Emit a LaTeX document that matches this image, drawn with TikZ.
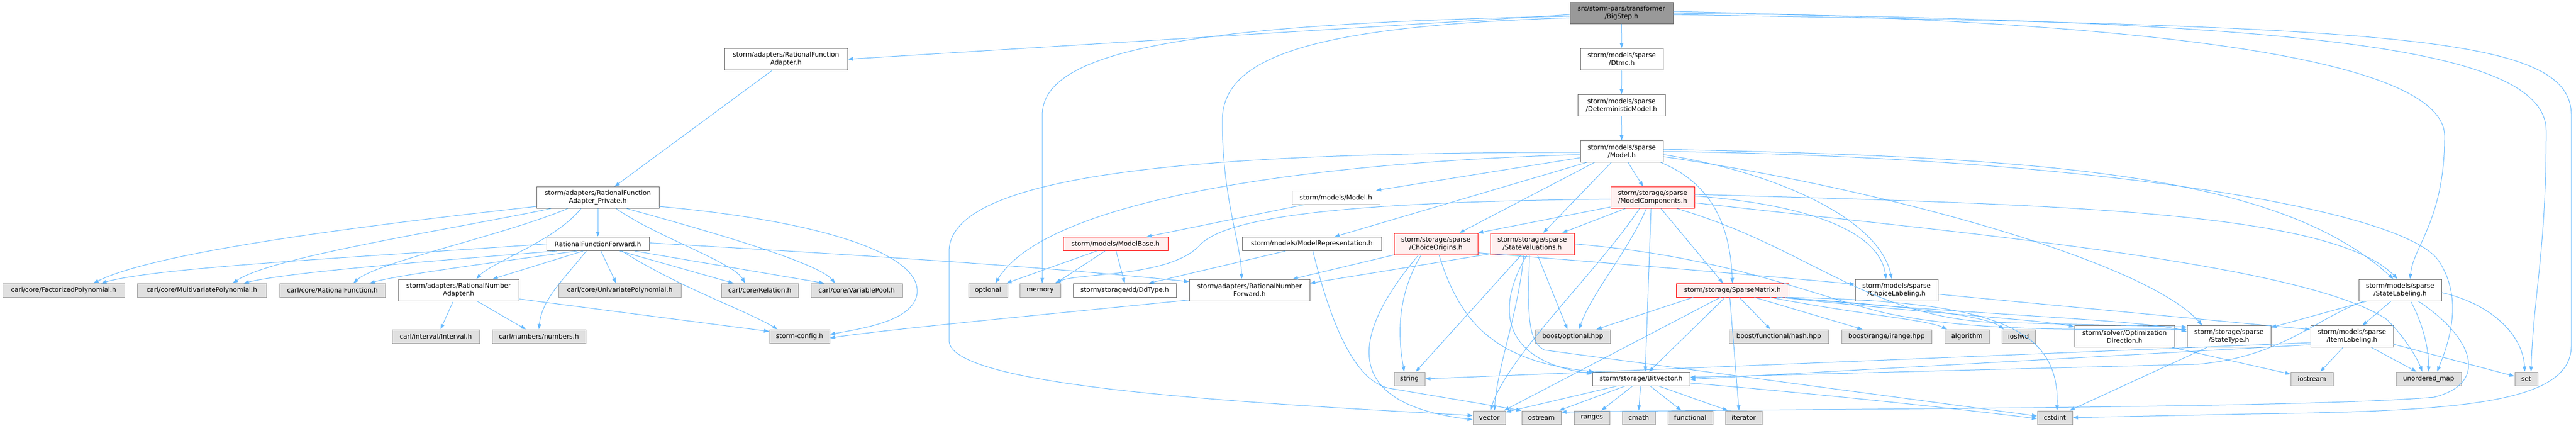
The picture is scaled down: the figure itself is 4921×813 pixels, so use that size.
\documentclass[tikz,border=0pt]{standalone}
\usepackage{fontspec}
\setmainfont{DejaVu Sans}
\usetikzlibrary{arrows.meta}
\definecolor{edgeblue}{HTML}{63B8FF}
\definecolor{boxline}{HTML}{666666}
\definecolor{sysline}{HTML}{999999}
\definecolor{sysfill}{HTML}{E0E0E0}
\definecolor{redfill}{HTML}{FFF0F0}
\definecolor{rootfill}{HTML}{999999}
\tikzset{
  hdr/.style={draw=boxline, fill=white, line width=1pt, align=center, inner sep=0pt,
    minimum height=26pt, font=\fontsize{12.4}{15}\selectfont},
  two/.style={minimum height=41pt},
  syshdr/.style={hdr, draw=sysline, fill=sysfill},
  redhdr/.style={hdr, draw=red, fill=redfill},
  roothdr/.style={hdr, fill=rootfill},
  incl/.style={draw=edgeblue, line width=1pt, -{Triangle[length=10pt,width=7pt]}},
}
\begin{document}
\begin{tikzpicture}[x=1pt,y=-1pt]
    \useasboundingbox (0,0) rectangle (4921,813);

    \node[roothdr, two, minimum width=197pt] (bigstep) at (3097.5,25) {src/storm-pars/transformer\\/BigStep.h};
    \node[hdr, two, minimum width=235pt] (rfadapter) at (1501.5,113) {storm/adapters/RationalFunction\\Adapter.h};
    \node[hdr, two, minimum width=158pt] (dtmc) at (3098,113) {storm/models/sparse\\/Dtmc.h};
    \node[hdr, two, minimum width=167pt] (detmodel) at (3097.5,201) {storm/models/sparse\\/DeterministicModel.h};
    \node[hdr, two, minimum width=158pt] (spmodel) at (3098,289) {storm/models/sparse\\/Model.h};
    \node[hdr, two, minimum width=234pt] (rfprivate) at (1142,377) {storm/adapters/RationalFunction\\Adapter\_Private.h};
    \node[hdr, minimum width=168pt] (modelh) at (2552,377) {storm/models/Model.h};
    \node[redhdr, two, minimum width=160pt] (components) at (3157,377) {storm/storage/sparse\\/ModelComponents.h};
    \node[hdr, minimum width=196pt] (rfforward) at (1142,465.5) {RationalFunctionForward.h};
    \node[redhdr, minimum width=200pt] (modelbase) at (2131,465.5) {storm/models/ModelBase.h};
    \node[hdr, minimum width=266pt] (modelrep) at (2506,465.5) {storm/models/ModelRepresentation.h};
    \node[redhdr, two, minimum width=160pt] (choiceorig) at (2743,465.5) {storm/storage/sparse\\/ChoiceOrigins.h};
    \node[redhdr, two, minimum width=160pt] (statevals) at (2927,465.5) {storm/storage/sparse\\/StateValuations.h};

    \node[syshdr, minimum width=233pt] (factpoly) at (121.5,554) {carl/core/FactorizedPolynomial.h};
    \node[syshdr, minimum width=247pt] (multipoly) at (385.5,554) {carl/core/MultivariatePolynomial.h};
    \node[syshdr, minimum width=202pt] (ratfunc) at (635,554) {carl/core/RationalFunction.h};
    \node[hdr, two, minimum width=230pt] (rnadapter) at (876,553.5) {storm/adapters/RationalNumber\\Adapter.h};
    \node[syshdr, minimum width=234pt] (univpoly) at (1184,554) {carl/core/UnivariatePolynomial.h};
    \node[syshdr, minimum width=147pt] (relation) at (1451.5,554) {carl/core/Relation.h};
    \node[syshdr, minimum width=175pt] (varpool) at (1636.5,554) {carl/core/VariablePool.h};
    \node[syshdr, minimum width=75pt] (optional) at (1887.5,554) {optional};
    \node[syshdr, minimum width=78pt] (memory) at (1987,554) {memory};
    \node[hdr, minimum width=197pt] (ddtype) at (2148.5,554) {storm/storage/dd/DdType.h};
    \node[hdr, two, minimum width=230pt] (rnforward) at (2387,553.5) {storm/adapters/RationalNumber\\Forward.h};
    \node[redhdr, minimum width=215pt] (sparsemat) at (3309.5,554) {storm/storage/SparseMatrix.h};
    \node[hdr, two, minimum width=158pt] (choicelab) at (3623,553.5) {storm/models/sparse\\/ChoiceLabeling.h};
    \node[hdr, two, minimum width=158pt] (statelab) at (4585,553.5) {storm/models/sparse\\/StateLabeling.h};

    \node[syshdr, minimum width=167pt] (interval) at (832.5,642) {carl/interval/Interval.h};
    \node[syshdr, minimum width=179pt] (numbers) at (1029.5,642) {carl/numbers/numbers.h};
    \node[syshdr, minimum width=115pt] (stormcfg) at (1527.5,642) {storm-config.h};
    \node[syshdr, minimum width=143pt] (boostopt) at (3004.5,642) {boost/optional.hpp};
    \node[syshdr, minimum width=190pt] (hash) at (3398,642) {boost/functional/hash.hpp};
    \node[syshdr, minimum width=172pt] (irange) at (3604,642) {boost/range/irange.hpp};
    \node[syshdr, minimum width=85pt] (algorithm) at (3757.5,642) {algorithm};
    \node[syshdr, minimum width=64pt] (iosfwd) at (3856,642) {iosfwd};
    \node[hdr, two, minimum width=191pt] (optdir) at (4058.5,642) {storm/solver/Optimization\\Direction.h};
    \node[hdr, two, minimum width=160pt] (statetype) at (4258,642) {storm/storage/sparse\\/StateType.h};
    \node[hdr, two, minimum width=158pt] (itemlab) at (4493,642) {storm/models/sparse\\/ItemLabeling.h};

    \node[syshdr, minimum width=59pt] (string) at (2692.5,723) {string};
    \node[hdr, minimum width=186pt] (bitvector) at (3135,723) {storm/storage/BitVector.h};
    \node[syshdr, minimum width=81pt] (iostream) at (4416.5,723) {iostream};
    \node[syshdr, minimum width=125pt] (umap) at (4639.5,723) {unordered\_map};
    \node[syshdr, minimum width=44pt] (stdset) at (4826,723) {set};

    \node[syshdr, minimum width=62pt] (vector) at (2845,797) {vector};
    \node[syshdr, minimum width=75pt] (ostream) at (2944.5,797) {ostream};
    \node[syshdr, minimum width=68pt] (ranges) at (3041,797) {ranges};
    \node[syshdr, minimum width=63pt] (cmath) at (3130.5,797) {cmath};
    \node[syshdr, minimum width=86pt] (functional) at (3229,797) {functional};
    \node[syshdr, minimum width=70pt] (iterator) at (3331,797) {iterator};
    \node[syshdr, minimum width=67pt] (cstdint) at (3925.5,797) {cstdint};

    \draw[incl] ([yshift=-3pt]bigstep.west) -- (rfadapter.east);
    \draw[incl] (bigstep) -- (dtmc);
    \draw[incl] ([yshift=-6pt]bigstep.west) .. controls (2250,45) and (1991,100) .. (1991,220) -- ([xshift=4pt]memory.north);
    \draw[incl] ([yshift=-9pt]bigstep.west) .. controls (2500,50) and (2335,110) .. (2335,230) .. controls (2335,380) and (2370,460) .. ([xshift=-15pt]rnforward.north);
    \draw[incl] ([yshift=3pt]bigstep.east) .. controls (4100,40) and (4670,110) .. (4670,260) .. controls (4670,420) and (4610,470) .. ([xshift=19pt]statelab.north);
    \draw[incl] (bigstep.east) .. controls (4400,40) and (4864,90) .. (4864,250) .. controls (4864,480) and (4840,560) .. ([xshift=9pt]stdset.north);
    \draw[incl] ([yshift=-3pt]bigstep.east) .. controls (4600,50) and (4912,70) .. (4912,220) -- (4912,660) .. controls (4912,770) and (4700,785) .. (4300,790) -- (cstdint.east);
    \draw[incl] ([xshift=-26pt]rfadapter.south) -- ([xshift=32pt]rfprivate.north);
    \draw[incl] (dtmc) -- (detmodel);
    \draw[incl] (detmodel) -- (spmodel);

    \draw[incl] ([yshift=4pt]rfprivate.south west) .. controls (700,430) and (300,480) .. ([xshift=57pt]factpoly.north);
    \draw[incl] ([xshift=28pt]rfprivate.south west) .. controls (850,440) and (520,490) .. ([xshift=59pt]multipoly.north);
    \draw[incl] ([xshift=60pt]rfprivate.south west) .. controls (960,450) and (720,500) .. ([xshift=40pt]ratfunc.north);
    \draw[incl] ([xshift=-32pt]rfprivate.south) .. controls (1060,460) and (940,500) .. ([xshift=34pt]rnadapter.north);
    \draw[incl] (rfprivate) -- (rfforward);
    \draw[incl] ([xshift=35pt]rfprivate.south) .. controls (1250,450) and (1400,500) .. ([xshift=-28pt]relation.north);
    \draw[incl] ([xshift=55pt]rfprivate.south) .. controls (1350,440) and (1560,500) .. ([xshift=-41pt]varpool.north);
    \draw[incl] ([yshift=4pt]rfprivate.south east) .. controls (1550,420) and (1760,480) .. (1752,560) .. controls (1745,610) and (1660,625) .. ([yshift=4pt]stormcfg.east);

    \draw[incl] (rfforward.west) .. controls (700,490) and (300,510) .. ([xshift=72pt]factpoly.north);
    \draw[incl] ([xshift=20pt]rfforward.south west) .. controls (800,500) and (550,520) .. ([xshift=80pt]multipoly.north);
    \draw[incl] ([xshift=-40pt]rfforward.south) .. controls (950,500) and (760,525) .. ([xshift=71pt]ratfunc.north);
    \draw[incl] ([xshift=-28pt]rfforward.south) -- ([xshift=65pt]rnadapter.north);
    \draw[incl] ([xshift=-22pt]rfforward.south) .. controls (1080,530) and (1035,570) .. (numbers.north);
    \draw[incl] ([xshift=6pt]rfforward.south) -- ([xshift=-7pt]univpoly.north);
    \draw[incl] ([xshift=42pt]rfforward.south) -- ([xshift=-50pt]relation.north);
    \draw[incl] ([xshift=46pt]rfforward.south) .. controls (1300,550) and (1420,590) .. ([xshift=-42pt]stormcfg.north);
    \draw[incl] ([xshift=70pt]rfforward.south) -- ([xshift=-62pt]varpool.north);
    \draw[incl] ([yshift=2pt]rfforward.east) .. controls (1700,490) and (2000,510) .. ([yshift=-5pt]rnforward.north west);

    \draw[incl] ([xshift=-10pt]rnadapter.south) -- ([xshift=9pt]interval.north);
    \draw[incl] ([xshift=35pt]rnadapter.south) -- ([xshift=-25pt]numbers.north);
    \draw[incl] ([yshift=4pt]rnadapter.south east) -- ([yshift=-4pt]stormcfg.north west);
    \draw[incl] ([yshift=2pt]rnforward.south west) .. controls (2000,600) and (1700,628) .. ([yshift=-3pt]stormcfg.east);

    \draw[incl] ([yshift=-2pt]spmodel.west) .. controls (2300,290) and (1813,330) .. (1813,480) -- (1813,650) .. controls (1813,740) and (2400,770) .. ([yshift=4pt]vector.west);
    \draw[incl] ([yshift=-6pt]spmodel.west) .. controls (2500,310) and (2000,380) .. ([xshift=14pt]optional.north);
    \draw[incl] ([yshift=-12pt]spmodel.west) -- ([xshift=-8pt]modelh.north east);
    \draw[incl] ([xshift=-67pt]spmodel.south) -- ([xshift=43pt]modelrep.north);
    \draw[incl] ([xshift=-52pt]spmodel.south) -- ([xshift=45pt]choiceorig.north);
    \draw[incl] ([xshift=-20pt]spmodel.south) -- ([xshift=21pt]statevals.north);
    \draw[incl] ([xshift=12pt]spmodel.south) -- ([xshift=-18pt]components.north);
    \draw[incl] ([xshift=-5pt]spmodel.south east) .. controls (3270,350) and (3305,430) .. (sparsemat.north);
    \draw[incl] ([yshift=4pt]spmodel.east) .. controls (3900,300) and (4350,330) .. ([xshift=-13pt]statelab.north);
    \draw[incl] ([yshift=-6pt]spmodel.east) .. controls (3400,330) and (3590,420) .. ([xshift=-9pt]choicelab.north);
    \draw[incl] ([yshift=-10pt]spmodel.east) .. controls (3600,360) and (4100,500) .. ([xshift=-51pt]statetype.north);
    \draw[incl] (spmodel.east) .. controls (4000,300) and (4600,400) .. (4660,500) .. controls (4705,570) and (4680,650) .. ([xshift=16pt]umap.north);

    \draw[incl] ([xshift=-60pt]modelh.south) -- ([xshift=59pt]modelbase.north);
    \draw[incl] ([xshift=-36pt]modelbase.south) -- ([xshift=35pt]optional.north);
    \draw[incl] ([xshift=-20pt]modelbase.south) -- ([xshift=30pt]memory.north);
    \draw[incl] ([xshift=1pt]modelbase.south) -- (ddtype.north);
    \draw[incl] ([xshift=-50pt]modelrep.south) -- ([xshift=46pt]ddtype.north);
    \draw[incl] ([xshift=2pt]modelrep.south) .. controls (2550,650) and (2600,735) .. (2660,742) -- (ostream.north west);

    \draw[incl] ([yshift=-3pt]components.west) .. controls (2600,385) and (2340,410) .. (2290,470) .. controls (2230,530) and (2060,520) .. ([xshift=28pt]memory.north);
    \draw[incl] ([yshift=-18pt]components.west) -- (choiceorig.north east);
    \draw[incl] ([xshift=-52pt]components.south) -- ([xshift=57pt]statevals.north);
    \draw[incl] ([xshift=-25pt]components.south) .. controls (3050,520) and (2880,680) .. ([xshift=2pt]vector.north);
    \draw[incl] ([xshift=-12pt]components.south) .. controls (3110,480) and (3040,560) .. ([xshift=12pt]boostopt.north);
    \draw[incl] ([xshift=-3pt]components.south) -- ([xshift=8pt]bitvector.north);
    \draw[incl] ([xshift=16pt]components.south) -- ([xshift=-18pt]sparsemat.north);
    \draw[incl] ([xshift=46pt]components.south) .. controls (3450,470) and (3560,600) .. (3800,615) -- ([yshift=-3pt]statetype.north west);
    \draw[incl] ([yshift=6pt]components.east) .. controls (3900,390) and (4450,400) .. ([xshift=-5pt]statelab.north);
    \draw[incl] ([yshift=3pt]components.east) .. controls (3450,390) and (3590,440) .. ([xshift=-20pt]choicelab.north);
    \draw[incl] ([yshift=-10pt]components.east) .. controls (3700,440) and (4400,500) .. (4560,610) .. controls (4600,650) and (4620,690) .. ([xshift=-12pt]umap.north);

    \draw[incl] (choiceorig.south west) -- ([xshift=-33pt]rnforward.north east);
    \draw[incl] ([xshift=-28pt]choiceorig.south) .. controls (2665,570) and (2672,650) .. ([xshift=-10pt]string.north);
    \draw[incl] ([xshift=-33pt]choiceorig.south) .. controls (2580,640) and (2560,770) .. ([yshift=-4pt]vector.west);
    \draw[incl] ([xshift=6pt]choiceorig.south) .. controls (2790,620) and (2860,690) .. ([xshift=4pt]bitvector.north west);
    \draw[incl] ([yshift=4pt]choiceorig.south east) .. controls (3000,496) and (3300,520) .. ([yshift=-10pt]choicelab.north west);

    \draw[incl] ([yshift=2pt]statevals.south west) -- ([yshift=-8pt]rnforward.north east);
    \draw[incl] ([xshift=-21pt]statevals.south) -- ([xshift=12pt]string.north);
    \draw[incl] ([xshift=-16pt]statevals.south) .. controls (2900,600) and (2860,700) .. ([xshift=10pt]vector.north);
    \draw[incl] ([xshift=-10pt]statevals.south) .. controls (2850,600) and (2880,690) .. ([yshift=-4pt]bitvector.north west);
    \draw[incl] ([xshift=10pt]statevals.south) -- ([xshift=-10pt]boostopt.north);
    \draw[incl] ([xshift=-5pt]statevals.south) .. controls (2918,600) and (2918,650) .. (2950,668) -- ([yshift=3pt]cstdint.west);
    \draw[incl] (statevals.east) .. controls (3300,490) and (3450,560) .. (3600,597) .. controls (3800,640) and (4050,625) .. ([yshift=-8pt]statetype.north west);

    \draw[incl] ([xshift=-75pt]sparsemat.south) -- ([xshift=45pt]boostopt.north);
    \draw[incl] ([xshift=-23pt]sparsemat.south) -- ([xshift=28pt]vector.north);
    \draw[incl] ([xshift=-14pt]sparsemat.south) -- ([xshift=15pt]bitvector.north);
    \draw[incl] ([xshift=-5pt]sparsemat.south) -- ([xshift=-9pt]iterator.north);
    \draw[incl] ([xshift=13pt]sparsemat.south) -- ([xshift=-16pt]hash.north);
    \draw[incl] ([xshift=42pt]sparsemat.south) -- ([xshift=-46pt]irange.north);
    \draw[incl] ([xshift=72pt]sparsemat.south) .. controls (3550,600) and (3680,610) .. ([xshift=-38pt]algorithm.north);
    \draw[incl] ([xshift=84pt]sparsemat.south) .. controls (3600,580) and (3790,600) .. ([xshift=-28pt]iosfwd.north);
    \draw[incl] ([xshift=92pt]sparsemat.south) .. controls (3700,600) and (3900,610) .. ([yshift=-3pt]optdir.north west);
    \draw[incl] ([xshift=100pt]sparsemat.south) .. controls (3750,600) and (4100,610) .. ([yshift=-12pt]statetype.north west);
    \draw[incl] ([xshift=104pt]sparsemat.south) .. controls (3800,575) and (3935,620) .. ([xshift=4pt]cstdint.north);

    \draw[incl] ([xshift=-45pt]bitvector.south) -- ([yshift=-3pt]vector.north east);
    \draw[incl] ([xshift=-30pt]bitvector.south) -- ([xshift=-4pt]ostream.north east);
    \draw[incl] ([xshift=-16pt]bitvector.south) -- ([xshift=18pt]ranges.north);
    \draw[incl] ([xshift=-1pt]bitvector.south) -- (cmath.north);
    \draw[incl] ([xshift=17pt]bitvector.south) -- ([xshift=-17pt]functional.north);
    \draw[incl] ([xshift=33pt]bitvector.south) -- ([xshift=-30pt]iterator.north);
    \draw[incl] ([yshift=-8pt]bitvector.east) .. controls (3400,745) and (3700,775) .. ([yshift=-2pt]cstdint.west);

    \draw[incl] ([xshift=-63pt]statelab.south) -- ([yshift=-4pt]statetype.north east);
    \draw[incl] ([xshift=-69pt]statelab.south) .. controls (4420,610) and (4360,680) .. (4200,695) -- ([yshift=3pt]bitvector.east);
    \draw[incl] ([xshift=-17pt]statelab.south) -- ([xshift=20pt]itemlab.north);
    \draw[incl] ([xshift=20pt]statelab.south) .. controls (4630,620) and (4640,670) .. (umap.north);
    \draw[incl] ([yshift=-5pt]statelab.east) .. controls (4760,580) and (4820,640) .. ([xshift=-3pt]stdset.north);
    \draw[incl] ([xshift=34pt]statelab.south) .. controls (4720,640) and (4760,730) .. (4650,758) .. controls (4400,780) and (3400,780) .. ([yshift=-3pt]ostream.north east);

    \draw[incl] ([yshift=-12pt]itemlab.west) -- (string.east);
    \draw[incl] ([yshift=-16pt]itemlab.west) -- ([yshift=-1pt]bitvector.east);
    \draw[incl] ([xshift=-17pt]itemlab.south) -- ([xshift=16pt]iostream.north);
    \draw[incl] ([xshift=37pt]itemlab.south) -- ([xshift=-23pt]umap.north);
    \draw[incl] ([yshift=6pt]itemlab.south east) -- ([yshift=5pt]stdset.west);
    \draw[incl] ([yshift=-8pt]choicelab.east) -- ([yshift=-8pt]itemlab.north west);
    \draw[incl] ([xshift=-5pt]optdir.south east) -- ([yshift=9pt]iostream.west);
    \draw[incl] ([xshift=-42pt]statetype.south) -- ([xshift=28pt]cstdint.north);
\end{tikzpicture}
\end{document}
